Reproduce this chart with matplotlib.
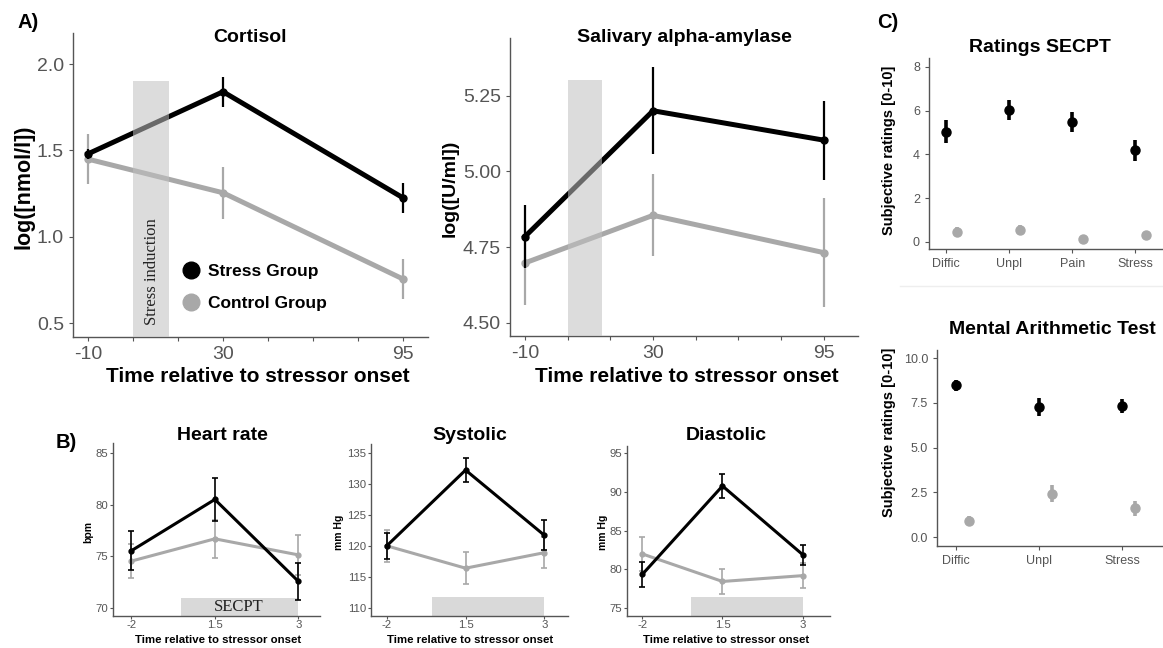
import matplotlib
matplotlib.use('Agg')
from matplotlib import pyplot as plt
from matplotlib.lines import Line2D

plt.rcParams['font.family'] = ['Liberation Sans', 'DejaVu Sans']

# colours
BLACK = '#000000'
GREY = '#a8a8a8'
AXCOL = '#555555'
SHADE = '#d9d9d9'

# ---- A) saliva, time relative to stressor onset (min) ----
a_times = ['-10', '30', '95']
cort_stress = [1.48, 1.84, 1.225]
cort_stress_se = [0.03, 0.088, 0.085]
cort_ctrl = [1.45, 1.255, 0.755]
cort_ctrl_se = [0.145, 0.15, 0.117]

amy_stress = [4.785, 5.20, 5.103]
amy_stress_se = [0.105, 0.143, 0.13]
amy_ctrl = [4.698, 4.855, 4.732]
amy_ctrl_se = [0.14, 0.135, 0.18]

# ---- B) cardiovascular ----
b_times = ['-2', '1.5', '3']
hr_stress = [75.55, 80.5, 72.6]
hr_stress_se = [1.9, 2.1, 1.8]
hr_ctrl = [74.55, 76.7, 75.15]
hr_ctrl_se = [1.65, 1.85, 1.9]

sys_stress = [120.0, 132.2, 121.7]
sys_stress_se = [2.1, 1.9, 2.4]
sys_ctrl = [120.0, 116.4, 118.9]
sys_ctrl_se = [2.6, 2.6, 2.5]

dia_stress = [79.35, 90.75, 81.9]
dia_stress_se = [1.55, 1.5, 1.3]
dia_ctrl = [82.0, 78.45, 79.2]
dia_ctrl_se = [2.15, 1.65, 1.6]

# ---- C) subjective ratings ----
secpt_items = ['Diffic', 'Unpl', 'Pain', 'Stress']
secpt_stress = [5.05, 6.02, 5.48, 4.2]
secpt_stress_se = [0.52, 0.46, 0.44, 0.48]
secpt_ctrl = [0.45, 0.56, 0.13, 0.3]
secpt_ctrl_se = [0.22, 0.2, 0.03, 0.08]

mat_items = ['Diffic', 'Unpl', 'Stress']
mat_stress = [8.48, 7.26, 7.34]
mat_stress_se = [0.3, 0.5, 0.4]
mat_ctrl = [0.91, 2.42, 1.6]
mat_ctrl_se = [0.24, 0.48, 0.4]

# layout bits (not data)
A_SLOTS = [0, 3, 7]      # -10, 30 and 95 sit on an 8-step grid
W, H = 1163, 648

fig = plt.figure(figsize=(W / 100, H / 100), dpi=100)


def add_ax(l, t, r, b, tick_size, pad=3.5, tlen=3):
    ax = fig.add_axes([l / W, 1 - b / H, (r - l) / W, (b - t) / H])
    ax.patch.set_alpha(0)
    for s in ['top', 'right']:
        ax.spines[s].set_visible(False)
    for s in ['left', 'bottom']:
        ax.spines[s].set_color(AXCOL)
        ax.spines[s].set_linewidth(1.0)
    ax.tick_params(color=AXCOL, labelcolor=AXCOL, length=tlen, width=0.8,
                   labelsize=tick_size, pad=pad)
    return ax


def fig_text(x, y, s, **kw):
    kw.setdefault('ha', 'center')
    kw.setdefault('va', 'center')
    fig.text(x / W, 1 - y / H, s, **kw)


def series(ax, xs, mean, se, color, lw, elw, ms, cap=0, z=2):
    ax.errorbar(xs, mean, yerr=se, color=color, lw=lw, elinewidth=elw,
                capsize=cap, capthick=elw, marker='o', ms=ms, zorder=z)


# ---------- A ----------
def saliva(box, stress, s_se, ctrl, c_se, ylim, yticks, fmt, bar_top):
    ax = add_ax(*box, tick_size=14)
    series(ax, A_SLOTS, ctrl, c_se, GREY, 3.6, 1.6, 5)
    series(ax, A_SLOTS, stress, s_se, BLACK, 3.6, 1.6, 5, z=3)
    ax.fill_between([1, 1.8], ylim[0], bar_top, color='#c0c0c0', alpha=0.55, lw=0, zorder=4)
    labels = [''] * 8
    for slot, t in zip(A_SLOTS, a_times):
        labels[slot] = t
    ax.set_xticks(range(8))
    ax.set_xticklabels(labels)
    ax.set_yticks(yticks)
    ax.set_yticklabels([fmt.format(v) for v in yticks])
    ax.set_ylim(*ylim)
    return ax


cort = saliva((73, 33, 428, 337), cort_stress, cort_stress_se, cort_ctrl, cort_ctrl_se,
              (0.42, 2.18), [0.5, 1.0, 1.5, 2.0], '{:.1f}', 1.9)
cort.set_xlim(-0.33, 7.55)
cort.text(1.42, 0.49, 'Stress induction', rotation=90, family='Liberation Serif',
          fontsize=12, ha='center', va='bottom', color='#222222', zorder=5)
handles = [Line2D([], [], marker='o', ls='', color=BLACK, ms=12),
           Line2D([], [], marker='o', ls='', color=GREY, ms=12)]
cort.legend(handles, ['Stress Group', 'Control Group'], loc='upper left',
            bbox_to_anchor=(182 / W, 1 - 264 / H), bbox_transform=fig.transFigure,
            frameon=False, borderpad=0, borderaxespad=0, handlelength=1.0,
            handletextpad=0.5, labelspacing=0.95, prop={'weight': 'bold', 'size': 12.5})

amy = saliva((510, 38, 858, 336), amy_stress, amy_stress_se, amy_ctrl, amy_ctrl_se,
             (4.457, 5.44), [4.50, 4.75, 5.00, 5.25], '{:.2f}', 5.30)
amy.set_xlim(-0.35, 7.8)

fig_text(250, 38, 'Cortisol', fontsize=14, weight='bold')
fig_text(24, 187, 'log([nmol/l])', fontsize=15.5, weight='bold', rotation=90)
fig_text(258, 377, 'Time relative to stressor onset', fontsize=15, weight='bold')
fig_text(684, 37, 'Salivary alpha-amylase', fontsize=14, weight='bold')
fig_text(450, 188, 'log([U/ml])', fontsize=14, weight='bold', rotation=90)
fig_text(687, 377, 'Time relative to stressor onset', fontsize=15, weight='bold')


# ---------- B ----------
def cardio(box, stress, s_se, ctrl, c_se, ylim, yticks, xlim, bar_from, bar_top):
    ax = add_ax(*box, tick_size=8.2, pad=1.2, tlen=2)
    xs = range(len(b_times))
    ax.fill_between([bar_from, 2.0], ylim[0], bar_top, color=SHADE, lw=0, zorder=1)
    series(ax, xs, ctrl, c_se, GREY, 2.2, 1.2, 3.5, cap=2, z=2)
    series(ax, xs, stress, s_se, BLACK, 2.2, 1.2, 3.5, cap=2, z=3)
    ax.set_xticks(list(xs))
    ax.set_xticklabels(b_times)
    ax.set_yticks(yticks)
    ax.set_ylim(*ylim)
    ax.set_xlim(*xlim)
    return ax


hr = cardio((113, 443, 320, 616), hr_stress, hr_stress_se, hr_ctrl, hr_ctrl_se,
            (69.25, 85.95), [70, 75, 80, 85], (-0.22, 2.26), 0.6, 71.0)
hr.text(1.29, (69.25 + 71.0) / 2, 'SECPT', family='Liberation Serif', fontsize=12,
        ha='center', va='center', color='#222222', zorder=5)
cardio((371, 444, 568, 616), sys_stress, sys_stress_se, sys_ctrl, sys_ctrl_se,
       (108.7, 136.4), [110, 115, 120, 125, 130, 135], (-0.2, 2.3), 0.57, 111.8)
cardio((627, 446, 830, 616), dia_stress, dia_stress_se, dia_ctrl, dia_ctrl_se,
       (74.0, 95.9), [75, 80, 85, 90, 95], (-0.19, 2.34), 0.61, 76.5)

for cx, title, ylab, yx in [(218, 'Heart rate', 'bpm', 88),
                            (470, 'Systolic', 'mm Hg', 339),
                            (726, 'Diastolic', 'mm Hg', 603)]:
    fig_text(cx + 4 if title == 'Heart rate' else cx, 436, title, fontsize=14, weight='bold')
    fig_text(cx, 640, 'Time relative to stressor onset', fontsize=8.2, weight='bold')
    fig_text(yx, 532, ylab, fontsize=7.5, weight='bold', rotation=90)


# ---------- C ----------
def ratings(box, items, stress, s_se, ctrl, c_se, ylim, yticks, fmt, xlim, dodge):
    ax = add_ax(*box, tick_size=9)
    xs = list(range(len(items)))
    series(ax, [x + dodge for x in xs], ctrl, c_se, GREY, 0, 2.6, 6.5)
    series(ax, xs, stress, s_se, BLACK, 0, 2.6, 6.5, z=3)
    ax.set_xticks(xs)
    ax.set_xticklabels(items)
    ax.set_yticks(yticks)
    ax.set_yticklabels([fmt.format(v) for v in yticks])
    ax.set_ylim(*ylim)
    ax.set_xlim(*xlim)
    return ax


ratings((929, 58, 1163, 249), secpt_items, secpt_stress, secpt_stress_se,
        secpt_ctrl, secpt_ctrl_se, (-0.32, 8.41), [0, 2, 4, 6, 8], '{:d}', (-0.27, 3.44), 0.17)
ratings((937, 350, 1163, 546), mat_items, mat_stress, mat_stress_se,
        mat_ctrl, mat_ctrl_se, (-0.5, 10.45), [0.0, 2.5, 5.0, 7.5, 10.0], '{:.1f}', (-0.23, 2.49), 0.15)

fig_text(1040, 48, 'Ratings SECPT', fontsize=14, weight='bold')
fig_text(889, 150, 'Subjective ratings [0-10]', fontsize=10.5, weight='bold', rotation=90)
fig_text(1052, 330, 'Mental Arithmetic Test', fontsize=14, weight='bold')
fig_text(889, 432, 'Subjective ratings [0-10]', fontsize=10.5, weight='bold', rotation=90)
fig.add_artist(Line2D([900 / W, 1.0], [1 - 286 / H] * 2, color='#eeeeee', lw=1))

# panel letters
fig_text(28, 22, 'A)', fontsize=14.5, weight='bold')
fig_text(66, 443, 'B)', fontsize=14.5, weight='bold')
fig_text(888, 22, 'C)', fontsize=14.5, weight='bold')

fig.savefig('out.png', dpi=100)
